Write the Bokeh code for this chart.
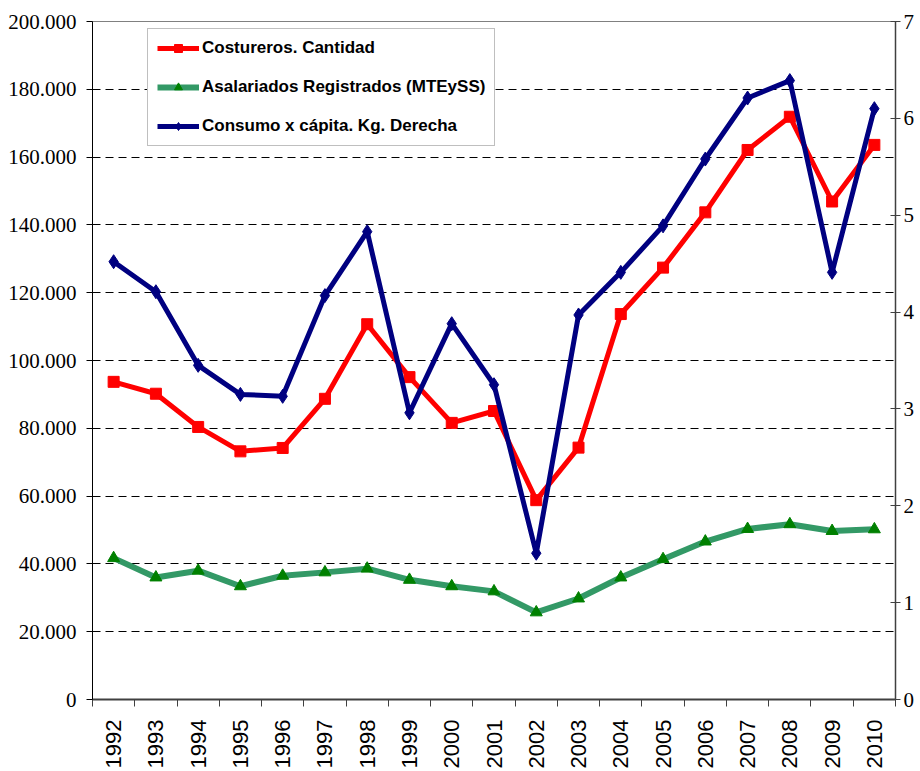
import math
from bokeh.plotting import figure
from bokeh.models import Range1d, LinearAxis, FixedTicker
from bokeh.embed import file_html
from bokeh.resources import INLINE

# ---- data ----
years = ["1992", "1993", "1994", "1995", "1996", "1997", "1998", "1999", "2000",
         "2001", "2002", "2003", "2004", "2005", "2006", "2007", "2008", "2009", "2010"]
costureros = [93700, 90200, 80400, 73200, 74200, 88700, 110700, 95100, 81600, 85100,
              58800, 74300, 113700, 127400, 143700, 162100, 171900, 146900, 163600]
asalariados = [41700, 36000, 38000, 33400, 36500, 37500, 38600, 35300, 33400, 31900,
               25700, 29800, 36000, 41400, 46600, 50300, 51700, 49700, 50200]
consumo = [4.52, 4.21, 3.45, 3.15, 3.13, 4.17, 4.83, 2.96, 3.88, 3.25,
           1.51, 3.97, 4.41, 4.89, 5.58, 6.21, 6.39, 4.41, 6.10]

left_ticks = [0, 20000, 40000, 60000, 80000, 100000, 120000, 140000, 160000, 180000, 200000]
left_tick_labels = ["0", "20.000", "40.000", "60.000", "80.000", "100.000", "120.000",
                    "140.000", "160.000", "180.000", "200.000"]
right_ticks = [0, 1, 2, 3, 4, 5, 6, 7]

series_names = ["Costureros. Cantidad", "Asalariados Registrados (MTEySS)",
                "Consumo x cápita. Kg. Derecha"]

# category positions (centre of each slot) and slot boundaries
xc = [i + 0.5 for i in range(len(years))]
xb = [i for i in range(len(years) + 1)]

p = figure(width=920, height=771, output_backend="svg", toolbar_location=None,
           x_range=Range1d(0, len(years)), y_range=Range1d(left_ticks[0], left_ticks[-1]),
           min_border_left=92, min_border_top=21, min_border_right=25, min_border_bottom=69)
p.background_fill_color = "white"
p.border_fill_color = "white"
p.outline_line_color = "#808080"
p.outline_line_width = 1

p.extra_y_ranges = {"right": Range1d(right_ticks[0], right_ticks[-1])}

# ---- axes ----
xa = p.xaxis[0]
xa.ticker = FixedTicker(ticks=xc, minor_ticks=xb)
xa.major_label_overrides = {x: y for x, y in zip(xc, years)}
xa.major_label_orientation = math.pi / 2
xa.major_tick_line_color = None
xa.major_tick_out = 7
xa.major_tick_in = 0
xa.minor_tick_line_color = "#404040"
xa.minor_tick_line_width = 1
xa.minor_tick_out = 7
xa.minor_tick_in = 0
xa.major_label_standoff = 13
xa.axis_line_color = "#404040"
xa.axis_line_width = 2
xa.major_label_text_font = "Liberation Sans"
xa.major_label_text_font_size = "22px"
xa.major_label_text_color = "black"

ya = p.yaxis[0]
ya.ticker = FixedTicker(ticks=left_ticks)
ya.major_label_overrides = {t: s for t, s in zip(left_ticks, left_tick_labels)}
ya.axis_line_color = "black"
ya.axis_line_width = 1
ya.major_tick_line_color = "black"
ya.major_tick_out = 6
ya.major_tick_in = 0
ya.minor_tick_line_color = None
ya.major_label_standoff = 10
ya.major_label_text_font = "Liberation Sans Narrow"
ya.major_label_text_font_size = "21px"
ya.major_label_text_color = "black"

ra = LinearAxis(y_range_name="right", ticker=FixedTicker(ticks=right_ticks))
ra.axis_line_color = "#404040"
ra.axis_line_width = 1.5
ra.major_tick_line_color = "#404040"
ra.major_tick_out = 5
ra.major_tick_in = 5
ra.minor_tick_line_color = None
ra.major_label_standoff = 3
ra.major_label_text_font = "Liberation Sans Narrow"
ra.major_label_text_font_size = "21px"
ra.major_label_text_color = "black"
p.add_layout(ra, "right")

# ---- grid ----
p.xgrid.visible = False
p.ygrid.ticker = FixedTicker(ticks=left_ticks[1:-1])
p.ygrid.grid_line_color = "black"
p.ygrid.grid_line_dash = "8 5"
p.ygrid.grid_line_width = 1

# ---- series ----
p.line(xc, costureros, line_color="#FF0000", line_width=5, legend_label=series_names[0])
p.scatter(xc, costureros, marker="square", size=11, fill_color="#FF0000",
          line_color="#FF0000", legend_label=series_names[0])

p.line(xc, asalariados, line_color="#339966", line_width=6, legend_label=series_names[1])
p.scatter(xc, asalariados, marker="triangle", size=12, fill_color="#008000",
          line_color="#008000", legend_label=series_names[1])

p.line(xc, consumo, line_color="#000080", line_width=5, y_range_name="right",
       legend_label=series_names[2])
p.scatter(xc, consumo, marker="diamond", size=14, fill_color="#000080",
          line_color="#000080", y_range_name="right", legend_label=series_names[2])

# ---- legend ----
lg = p.legend[0]
lg.location = (55, 553)
lg.border_line_color = "#808080"
lg.border_line_width = 1
lg.background_fill_color = "white"
lg.background_fill_alpha = 1
lg.label_text_font = "Liberation Sans"
lg.label_text_font_style = "bold"
lg.label_text_font_size = "17px"
lg.label_text_color = "black"
lg.glyph_width = 42
lg.glyph_height = 20
lg.label_height = 20
lg.label_standoff = 3
lg.padding = 9
lg.spacing = 19
lg.margin = 0

open("out.html", "w").write(file_html(p, INLINE))
